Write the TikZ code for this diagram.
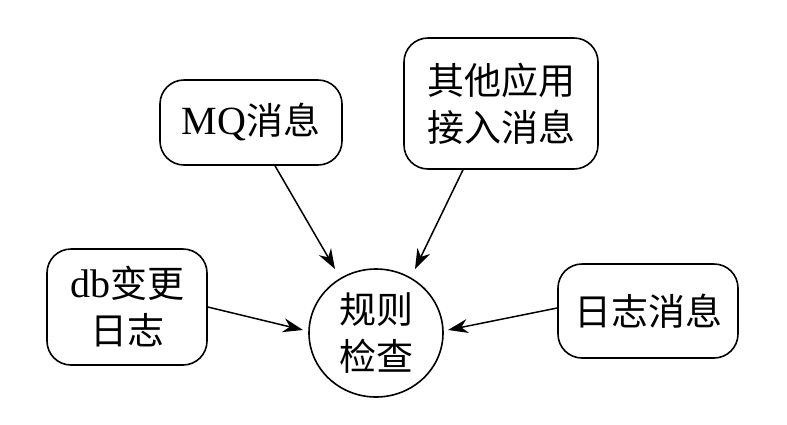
\documentclass[tikz,border=0pt]{standalone}
\usepackage{fontspec}
\setmainfont{Liberation Serif}
\newfontfamily\cjk{Noto Sans CJK SC}
\usetikzlibrary{arrows.meta,shapes.geometric}
\begin{document}
\begin{tikzpicture}[x=1pt,y=-1pt,
  box/.style={draw,line width=1.6pt,rounded corners=24pt,align=center,
    font=\fontsize{37}{47}\selectfont\cjk,inner sep=0pt},
  arr/.style={-{Stealth[length=20pt,width=14pt]},line width=1.5pt}]
\useasboundingbox (0,0) rectangle (787,424);
\node[box,minimum width=182pt,minimum height=85pt] (mq) at (251,122.5) {{\rmfamily\fontsize{40}{47}\selectfont MQ}消息};
\node[box,minimum width=194pt,minimum height=131pt] (other) at (501,103.5) {其他应用\\接入消息};
\node[box,minimum width=160pt,minimum height=116pt] (db) at (127,307) {{\rmfamily\fontsize{40}{47}\selectfont db}变更\\日志};
\node[box,minimum width=180pt,minimum height=94pt] (log) at (648,311) {日志消息};
\node[box,ellipse,rounded corners=0pt,minimum width=134pt,minimum height=128pt] (check) at (376,333) {规则\\检查};
\draw[arr] ([xshift=24pt]mq.south) -- ([shift={(-41,-64)}]check.center);
\draw[arr] ([xshift=-38pt]other.south) -- ([shift={(39,-64)}]check.center);
\draw[arr] (db.east) -- ([shift={(-73,-3)}]check.center);
\draw[arr] ([yshift=3pt]log.west) -- ([shift={(72,-3)}]check.center);
\end{tikzpicture}
\end{document}
